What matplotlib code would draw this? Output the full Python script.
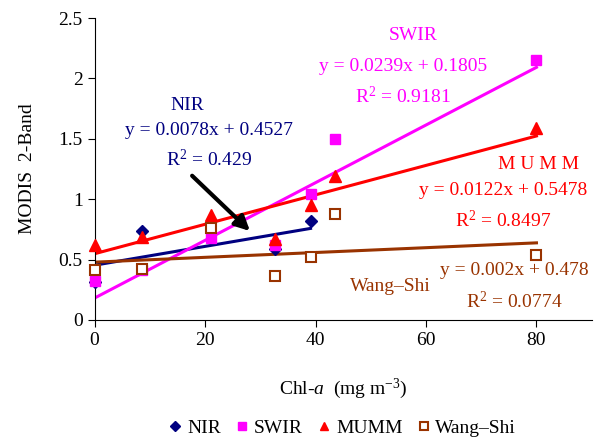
import matplotlib
matplotlib.use("Agg")
import matplotlib.pyplot as plt
import numpy as np

plt.rcParams['font.family'] = ['Liberation Serif', 'DejaVu Serif']
plt.rcParams['mathtext.fontset'] = 'custom'
plt.rcParams['mathtext.rm'] = 'Liberation Serif'
plt.rcParams['mathtext.it'] = 'Liberation Serif:italic'

# Data
nir_x = [0, 8.6, 32.7, 39.1]
nir_y = [0.31, 0.74, 0.585, 0.82]
swir_x = [0, 8.6, 21.0, 32.7, 39.1, 43.6, 80]
swir_y = [0.32, 0.41, 0.68, 0.62, 1.04, 1.50, 2.15]
mumm_x = [0, 8.6, 21.0, 32.7, 39.1, 43.6, 80]
mumm_y = [0.62, 0.69, 0.87, 0.67, 0.95, 1.19, 1.59]
ws_x = [0, 8.6, 21.0, 32.7, 39.1, 43.6, 80]
ws_y = [0.41, 0.42, 0.76, 0.36, 0.52, 0.88, 0.54]

# linear fits as printed on the chart
slopes = [0.0078, 0.0239, 0.0122, 0.002]
intercepts = [0.4527, 0.1805, 0.5478, 0.478]
r2 = [0.429, 0.9181, 0.8497, 0.0774]
fit_end = [39.1, 80, 80, 80]

navy = '#000080'
magenta = '#FF00FF'
red = '#FF0000'
brown = '#993300'
colors = [navy, magenta, red, brown]

fig = plt.figure(figsize=(6.1, 4.43), dpi=100)
ax = fig.add_axes([0.155, 0.278, 0.815, 0.681])

ax.plot(nir_x, nir_y, 'D', color=navy, ms=6.5, label='NIR', zorder=3, clip_on=False)
ax.plot(swir_x, swir_y, 's', color=magenta, ms=7.5, label='SWIR', zorder=3, clip_on=False)
ax.plot(mumm_x, mumm_y, '^', color=red, ms=8.5, label='MUMM', zorder=3, clip_on=False)
ax.plot(ws_x, ws_y, 's', mfc='white', mec=brown, mew=1.5, ms=7.5,
        label='Wang\u2013Shi', zorder=3, clip_on=False)

for m, b, xe, c in zip(slopes, intercepts, fit_end, colors):
    xs = np.array([0, xe])
    ax.plot(xs, m * xs + b, color=c, lw=2.2, zorder=2)

fs = 14
# NIR labels
ax.text(16.7, 1.78, 'NIR', color=navy, fontsize=fs, ha='center', va='center')
ax.text(20.7, 1.57, 'y = %.4fx + %.4f' % (slopes[0], intercepts[0]), color=navy,
        fontsize=fs, ha='center', va='center')
ax.text(20.7, 1.33, r'R$^2$ = %g' % r2[0], color=navy, fontsize=fs, ha='center', va='center')
# SWIR labels
ax.text(57.7, 2.36, 'SWIR', color=magenta, fontsize=fs, ha='center', va='center')
ax.text(55.8, 2.10, 'y = %.4fx + %.4f' % (slopes[1], intercepts[1]), color=magenta,
        fontsize=fs, ha='center', va='center')
ax.text(55.8, 1.85, r'R$^2$ = %g' % r2[1], color=magenta, fontsize=fs, ha='center', va='center')
# MUMM labels
ax.text(80.3, 1.29, 'M U M M', color=red, fontsize=fs, ha='center', va='center')
ax.text(74.0, 1.07, 'y = %.4fx + %.4f' % (slopes[2], intercepts[2]), color=red,
        fontsize=fs, ha='center', va='center')
ax.text(74.0, 0.82, r'R$^2$ = %g' % r2[2], color=red, fontsize=fs, ha='center', va='center')
# Wang-Shi labels
ax.text(53.6, 0.276, 'Wang\u2013Shi', color=brown, fontsize=fs, ha='center', va='center')
ax.text(75.9, 0.41, 'y = %gx + %g' % (slopes[3], intercepts[3]), color=brown,
        fontsize=fs, ha='center', va='center')
ax.text(75.9, 0.15, r'R$^2$ = %g' % r2[3], color=brown, fontsize=fs, ha='center', va='center')

ax.annotate('', xy=(28.5, 0.72), xytext=(17.3, 1.21),
            arrowprops=dict(arrowstyle='-|>', color='black', lw=3,
                            mutation_scale=22))

ax.set_xlim(0, 90)
ax.set_ylim(0, 2.5)
ax.set_xticks([0, 20, 40, 60, 80])
ax.set_yticks([0, 0.5, 1, 1.5, 2, 2.5])
ax.set_yticklabels(['0', '0.5', '1', '1.5', '2', '2.5'])
ax.spines['top'].set_visible(False)
ax.spines['right'].set_visible(False)
ax.tick_params(direction='out', length=5, labelsize=fs)

ax.set_xlabel(r'Chl-$\mathit{a}$  (mg m$^{\mathrm{-3}}$)', fontsize=fs, labelpad=20)
ax.set_ylabel('MODIS  2-Band', fontsize=fs, labelpad=16)

fig.legend(handles=ax.get_lines()[:4], loc='center', bbox_to_anchor=(0.559, 0.034),
           ncol=4, frameon=False, fontsize=fs, handletextpad=0.1,
           columnspacing=0.6, handlelength=1.0, markerscale=0.75)

fig.savefig('out.png', dpi=100)
